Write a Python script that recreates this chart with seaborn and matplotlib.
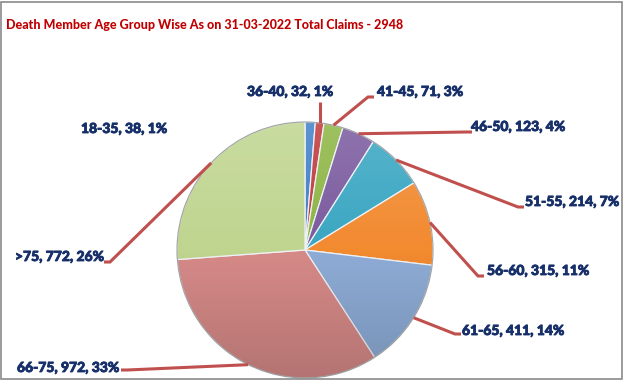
import matplotlib
matplotlib.use("Agg")
import matplotlib.pyplot as plt
import matplotlib.patheffects as pe
import seaborn as sns
import numpy as np
from matplotlib.patches import Rectangle, Circle

# ---- data ----
age_groups = ["18-35", "36-40", "41-45", "46-50", "51-55", "56-60", "61-65", "66-75", ">75"]
claims = [38, 32, 71, 123, 214, 315, 411, 972, 772]
percent_labels = ["1%", "1%", "3%", "4%", "7%", "11%", "14%", "33%", "26%"]
title_text = "Death Member Age Group Wise As on 31-03-2022 Total Claims - 2948"

colors = sns.color_palette(["#3f7fc8", "#c0393a", "#8db544", "#7a5a9e", "#3aa6c2",
                            "#f28a30", "#8eacd6", "#d68a88", "#bfd58f"])

sns.set_style("white")
plt.rcParams['font.family'] = ['Lato', 'DejaVu Sans']

W, H = 625, 380
fig = plt.figure(figsize=(W / 100, H / 100), dpi=100)
ax = fig.add_axes([0, 0, 1, 1])

def Y(y):
    return H - y

cx, cy, R = 305, Y(250), 128
wedges, _ = ax.pie(claims, colors=colors, startangle=90, counterclock=False,
                   center=(cx, cy), radius=R, frame=True,
                   wedgeprops=dict(edgecolor="#eef2f6", linewidth=0.9))
ax.set_xlim(0, W)
ax.set_ylim(0, H)
ax.set_aspect("equal")
ax.axis("off")

# soft vertical shading over the pie (light on top, darker at the bottom)
g = np.linspace(0, 1, 256)
rgba = np.zeros((256, 1, 4))
rgba[:, 0, 0] = np.where(g < 0.5, 1.0, 0.0)
rgba[:, 0, 1] = rgba[:, 0, 0]
rgba[:, 0, 2] = rgba[:, 0, 0]
rgba[:, 0, 3] = np.abs(g - 0.5) * 0.32
shade = ax.imshow(rgba, extent=(cx - R, cx + R, cy - R, cy + R), origin="upper",
                  aspect="auto", zorder=2, interpolation="bilinear")
clip = Circle((cx, cy), R, transform=ax.transData)
shade.set_clip_path(clip)
ax.add_patch(Circle((cx, cy), R, fill=False, edgecolor="#6f6f6f", lw=0.8,
                    alpha=0.6, zorder=2.5))
ax.set_xlim(0, W)
ax.set_ylim(0, H)
ax.set_aspect("equal")

# label layout: (text left x, text center y, line start x, line start y) in image pixels
layout = [
    (81, 129, None, None),
    (247, 92, None, None),
    (377, 92, 368, 97),
    (471, 127, 466, 132),
    (525, 202, 518, 207),
    (487, 271, 478, 276),
    (462, 331, 455, 334),
    (17, 368, 127, 370),
    (15, 257, 110, 262),
]

label_color = "#17306a"
line_color = "#c0504d"
for i, w in enumerate(wedges):
    mid = np.deg2rad((w.theta1 + w.theta2) / 2)
    ax_x = cx + R * np.cos(mid)
    ax_y = cy + R * np.sin(mid)
    tx, ty, lx, ly = layout[i]
    text = f"{age_groups[i]}, {claims[i]}, {percent_labels[i]}"
    ax.text(tx, Y(ty), text, ha="left", va="center", fontsize=10,
            fontweight=900, color=label_color,
            path_effects=[pe.withStroke(linewidth=0.6, foreground=label_color)])
    if i == 1:
        ax.plot([ax_x, ax_x], [Y(102), ax_y], color=line_color, lw=2.2,
                solid_capstyle="butt", zorder=3)
    elif lx is not None:
        if lx < tx:
            p0 = (lx + 6, Y(ly))
        else:
            p0 = (lx - 6, Y(ly))
        ax.plot([p0[0], lx, ax_x], [p0[1], Y(ly), ax_y], color=line_color, lw=2.2,
                solid_capstyle="butt", solid_joinstyle="miter", zorder=3)

fig.text(6 / W, 1 - 25 / H, title_text, ha="left", va="center", fontsize=9,
         fontweight=900, color="#c00000")

fig.patches.append(Rectangle((0.5 / W, 1.5 / H), (W - 3.5) / W, (H - 3) / H,
                             transform=fig.transFigure, fill=False,
                             edgecolor="#8a8a8a", linewidth=1.2))

fig.savefig("out.png", dpi=100, facecolor="white")
